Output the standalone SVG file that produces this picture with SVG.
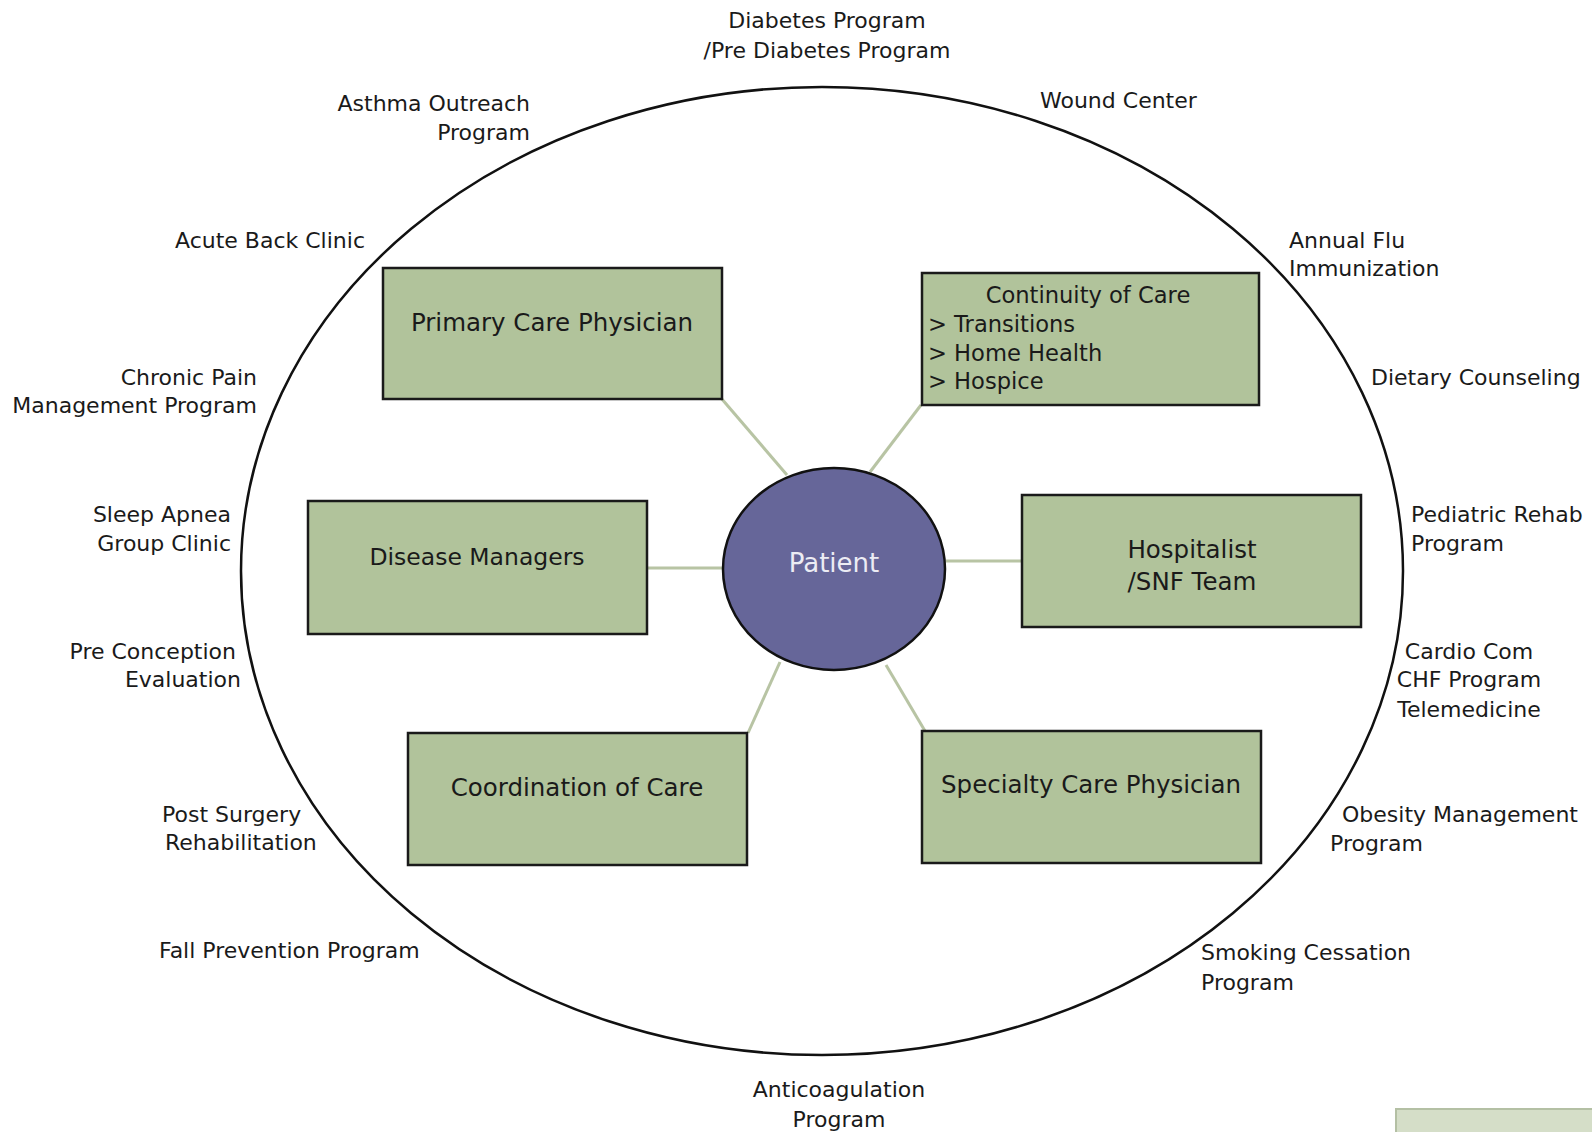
<svg xmlns="http://www.w3.org/2000/svg" width="1592" height="1132" viewBox="0 0 1592 1132">
<style>
.lbl{font-family:"DejaVu Sans",Verdana,sans-serif;font-size:22px;fill:#1a1a1a}
.box{fill:#b1c39b;stroke:#1a1a1a;stroke-width:2.5}
.btx{font-family:"DejaVu Sans",Verdana,sans-serif;font-size:24.5px;fill:#1a1a1a}
.sm{font-size:22.6px}
.con{stroke:#b8c4a4;stroke-width:3;fill:none}
.e{text-anchor:end}
.m{text-anchor:middle}
</style>
<rect width="1592" height="1132" fill="#ffffff"/>
<ellipse id="outer" cx="822" cy="571" rx="581" ry="484" fill="none" stroke="#111" stroke-width="2.5"/>
<g id="connectors">
<line class="con" x1="721" y1="398" x2="787" y2="475"/>
<line class="con" x1="921" y1="405" x2="870" y2="472"/>
<line class="con" x1="647" y1="568" x2="723" y2="568"/>
<line class="con" x1="946" y1="561" x2="1022" y2="561"/>
<line class="con" x1="748" y1="733" x2="780" y2="662"/>
<line class="con" x1="886" y1="665" x2="925" y2="731"/>
</g>
<g id="patient">
<ellipse cx="834" cy="569" rx="111" ry="101" fill="#666699" stroke="#111" stroke-width="2.5"/>
<text x="834" y="572" class="m" font-family="DejaVu Sans,Verdana,sans-serif" font-size="26" fill="#ececf4">Patient</text>
</g>
<g id="primary">
<rect class="box" x="383" y="268" width="339" height="131"/>
<text class="btx m" x="552" y="331">Primary Care Physician</text>
</g>
<g id="continuity">
<rect class="box" x="922" y="273" width="337" height="132"/>
<text class="btx sm m" x="1088" y="303">Continuity of Care</text>
<text class="btx sm" x="928" y="332">&gt; Transitions</text>
<text class="btx sm" x="928" y="361">&gt; Home Health</text>
<text class="btx sm" x="928" y="389">&gt; Hospice</text>
</g>
<g id="disease">
<rect class="box" x="308" y="501" width="339" height="133"/>
<text class="btx m" x="477" y="565" style="font-size:23.5px">Disease Managers</text>
</g>
<g id="hospitalist">
<rect class="box" x="1022" y="495" width="339" height="132"/>
<text class="btx m" x="1192" y="558">Hospitalist</text>
<text class="btx m" x="1192" y="590">/SNF Team</text>
</g>
<g id="coordination">
<rect class="box" x="408" y="733" width="339" height="132"/>
<text class="btx m" x="577" y="796">Coordination of Care</text>
</g>
<g id="specialty">
<rect class="box" x="922" y="731" width="339" height="132"/>
<text class="btx m" x="1091" y="793">Specialty Care Physician</text>
</g>
<g id="partial">
<rect x="1396" y="1109" width="200" height="40" fill="#d5dec8" stroke="#b4c0a4" stroke-width="2"/>
</g>
<g id="labels">
<text class="lbl m" x="827" y="28">Diabetes Program</text>
<text class="lbl m" x="827" y="58">/Pre Diabetes Program</text>
<text class="lbl e" x="530" y="111">Asthma Outreach</text>
<text class="lbl e" x="530" y="140">Program</text>
<text class="lbl" x="1040" y="108">Wound Center</text>
<text class="lbl" x="175" y="248">Acute Back Clinic</text>
<text class="lbl" x="1289" y="248">Annual Flu</text>
<text class="lbl" x="1289" y="276">Immunization</text>
<text class="lbl e" x="257" y="385">Chronic Pain</text>
<text class="lbl e" x="257" y="413">Management Program</text>
<text class="lbl" x="1371" y="385">Dietary Counseling</text>
<text class="lbl e" x="231" y="522">Sleep Apnea</text>
<text class="lbl e" x="231" y="551">Group Clinic</text>
<text class="lbl" x="1411" y="522">Pediatric Rehab</text>
<text class="lbl" x="1411" y="551">Program</text>
<text class="lbl e" x="236" y="659">Pre Conception</text>
<text class="lbl e" x="241" y="687">Evaluation</text>
<text class="lbl m" x="1469" y="659">Cardio Com</text>
<text class="lbl m" x="1469" y="687">CHF Program</text>
<text class="lbl m" x="1469" y="717">Telemedicine</text>
<text class="lbl" x="162" y="822">Post Surgery</text>
<text class="lbl" x="165" y="850">Rehabilitation</text>
<text class="lbl" x="1342" y="822">Obesity Management</text>
<text class="lbl" x="1330" y="851">Program</text>
<text class="lbl" x="159" y="958">Fall Prevention Program</text>
<text class="lbl" x="1201" y="960">Smoking Cessation</text>
<text class="lbl" x="1201" y="990">Program</text>
<text class="lbl m" x="839" y="1097">Anticoagulation</text>
<text class="lbl m" x="839" y="1127">Program</text>
</g>
</svg>
